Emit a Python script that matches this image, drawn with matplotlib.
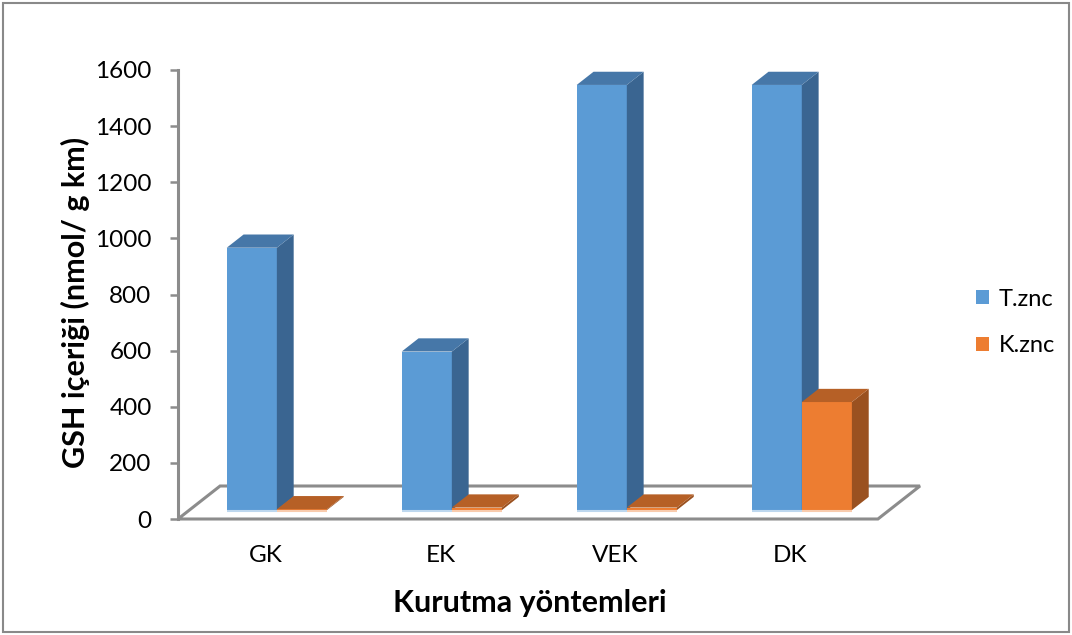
import matplotlib
matplotlib.use("Agg")
import matplotlib.pyplot as plt
from matplotlib.patches import Polygon, Rectangle, Patch
import numpy as np

# ---- data ----
categories = ["GK", "EK", "VEK", "DK"]
series_names = ["T.znc", "K.znc"]
t_znc = [935, 565, 1515, 1515]
k_znc = [3, 9, 9, 385]
y_ticks = [0, 200, 400, 600, 800, 1000, 1200, 1400, 1600]

# ---- styling ----
front_colors = ["#5B9BD5", "#ED7D31"]
top_colors = ["#4677A8", "#B66026"]
side_colors = ["#3A6591", "#9A5120"]
base_colors = ["#BDD7EE", "#F8CBAD"]
grey = "#8C8C8C"

plt.rcParams['font.family'] = ['Lato', 'DejaVu Sans']

W, H = 1072, 635
fig = plt.figure(figsize=(W / 100, H / 100), dpi=100)
ax = fig.add_axes([178 / W, 116 / H, 742 / W, 449 / H])

n = len(categories)
DEPTH = np.array([0.2405, 117.6])   # projected floor depth (x in categories, y in values)
BAR_W = 0.2863
BAR_FRONT = 0.27                   # where the bar fronts sit inside the floor depth
BAR_DEPTH = 0.40                   # bar thickness as a fraction of the floor depth

ax.set_xlim(-0.5, n - 0.5 + DEPTH[0])
ax.set_ylim(0, 1600)

# floor
x0, x1 = -0.5, n - 0.5
floor = Polygon([(x0, 0), (x1, 0), (x1 + DEPTH[0], DEPTH[1]), (x0 + DEPTH[0], DEPTH[1])],
                closed=True, facecolor="white", edgecolor=grey, lw=2.2,
                joinstyle="miter", clip_on=False, zorder=1)
ax.add_patch(floor)


def draw_bar(xl, y0, value, s):
    d0, d1 = BAR_DEPTH * DEPTH
    ax.bar(xl, value, bottom=y0, width=BAR_W, align="edge",
           color=front_colors[s], lw=0, zorder=3)
    side = Polygon([(xl + BAR_W, y0), (xl + BAR_W + d0, y0 + d1),
                    (xl + BAR_W + d0, y0 + value + d1), (xl + BAR_W, y0 + value)],
                   closed=True, facecolor=side_colors[s], lw=0, zorder=3)
    top = Polygon([(xl, y0 + value), (xl + d0, y0 + value + d1),
                   (xl + BAR_W + d0, y0 + value + d1), (xl + BAR_W, y0 + value)],
                  closed=True, facecolor=top_colors[s], lw=0, zorder=3)
    ax.add_patch(side)
    ax.add_patch(top)
    ax.plot([xl, xl + BAR_W], [y0 - 3, y0 - 3], color=base_colors[s],
            lw=1.5, solid_capstyle="butt", zorder=3)


y_base = BAR_FRONT * DEPTH[1]
for i in range(n):
    for s, vals in enumerate([t_znc, k_znc]):
        xl = i + BAR_FRONT * DEPTH[0] - BAR_W + s * BAR_W
        draw_bar(xl, y_base, vals[i], s)

# axes styling
for side in ["top", "right", "bottom"]:
    ax.spines[side].set_visible(False)
ax.spines["left"].set_color(grey)
ax.spines["left"].set_linewidth(2.2)
ax.spines["left"].set_zorder(2)
ax.set_yticks(y_ticks)
ax.set_yticklabels([str(v) for v in y_ticks])
ax.tick_params(axis="y", direction="out", length=6, width=1.8, color=grey,
               pad=13, labelsize=17.5)
ax.set_xticks(range(n))
ax.set_xticklabels(categories)
ax.tick_params(axis="x", length=0, pad=19, labelsize=17.5)
ax.patch.set_visible(False)

fig.text(75 / W, 1 - 302 / H, "GSH içeriği (nmol/ g km)", rotation=90,
         ha="center", va="center", fontsize=22, fontweight="bold")
fig.text(530 / W, 1 - 603 / H, "Kurutma yöntemleri", ha="center", va="center",
         fontsize=22, fontweight="bold")

handles = [Patch(facecolor=front_colors[s], lw=0) for s in range(2)]
fig.legend(handles, series_names, loc="center left",
           bbox_to_anchor=(976 / W, 1 - 322.5 / H), frameon=False, fontsize=17,
           handlelength=0.55, handleheight=0.55, handletextpad=0.4,
           labelspacing=1.1, borderpad=0, borderaxespad=0)

fig.add_artist(Rectangle((3 / W, 3 / H), 1066 / W, 629 / H, transform=fig.transFigure,
                         fill=False, edgecolor="#898989", lw=1.5))

fig.savefig("out.png", dpi=100)
